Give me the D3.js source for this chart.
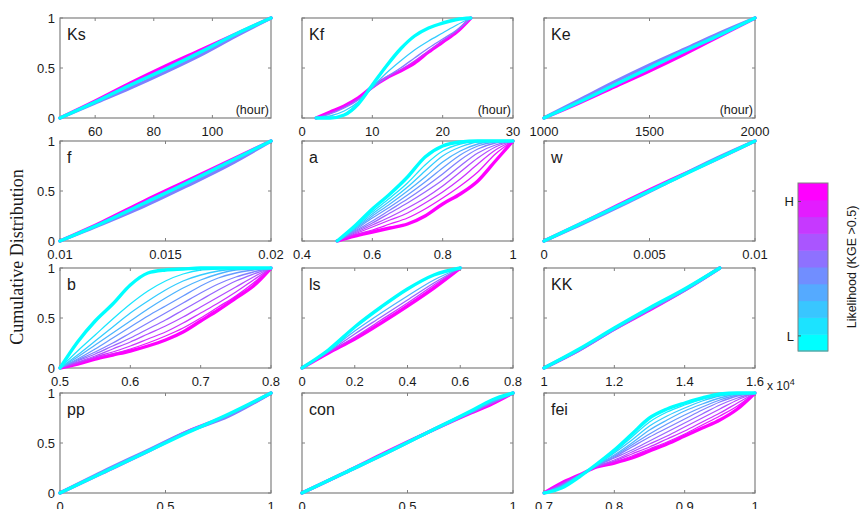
<!DOCTYPE html>
<html>
<head>
<meta charset="utf-8">
<script src="https://cdn.jsdelivr.net/npm/d3@7"></script>
<style>
body { margin: 0; background: #fff; }
text { font-family: 'Liberation Sans', Arial, sans-serif; fill: #1a1a1a; }
</style>
</head>
<body>
<svg id="chart" width="861" height="509"></svg>
<script>
// panel order: 4 rows x 3 columns
const panelNames = ['Ks', 'Kf', 'Ke', 'f', 'a', 'w', 'b', 'ls', 'KK', 'pp', 'con', 'fei']
const xDomains = [[48, 120], [0, 30], [1000, 2000], [0.01, 0.02], [0.4, 1], [0, 0.01],
                  [0.5, 0.8], [0, 0.8], [1, 1.6], [0, 1], [0, 1], [0.7, 1]]
const xTicks = [[60, 80, 100], [0, 10, 20, 30], [1000, 1500, 2000], [0.01, 0.015, 0.02],
                [0.4, 0.6, 0.8, 1], [0, 0.005, 0.01], [0.5, 0.6, 0.7, 0.8], [0, 0.2, 0.4, 0.6, 0.8],
                [1, 1.2, 1.4, 1.6], [0, 0.5, 1], [0, 0.5, 1], [0.7, 0.8, 0.9, 1]]
const unitLabels = ['(hour)', '(hour)', '(hour)', '', '', '', '', '', '', '', '', '']
const yTicks = [0, 0.5, 1]

// likelihood level of each curve: 10 = H (magenta), 0 = L (cyan)
const ksGrid = [48, 60, 72, 84, 96, 108, 120]
const ksLevels = [10, 5, 0]
const ksY = [
    [0, 0.17, 0.35, 0.52, 0.68, 0.84, 1],
    [0, 0.15, 0.30, 0.46, 0.63, 0.82, 1],
    [0, 0.16, 0.33, 0.49, 0.66, 0.84, 1]]

const kfGrid = [2, 4, 6, 8, 10, 12, 14, 16, 18, 20, 22, 24]
const kfLevels = [10, 8, 5, 2, 0]
const kfY = [
    [0, 0.06, 0.12, 0.20, 0.31, 0.40, 0.47, 0.55, 0.66, 0.76, 0.86, 1],
    [0, 0.05, 0.11, 0.19, 0.30, 0.40, 0.48, 0.57, 0.67, 0.77, 0.87, 1],
    [0, 0.04, 0.10, 0.18, 0.30, 0.41, 0.50, 0.60, 0.70, 0.79, 0.88, 1],
    [0, 0.02, 0.07, 0.16, 0.31, 0.45, 0.57, 0.68, 0.77, 0.85, 0.93, 1],
    [0, 0, 0.03, 0.14, 0.33, 0.52, 0.69, 0.82, 0.90, 0.95, 0.985, 1]]

const keGrid = [1000, 1167, 1333, 1500, 1667, 1833, 2000]
const keLevels = [10, 5, 0]
const keY = [
    [0, 0.15, 0.31, 0.47, 0.64, 0.82, 1],
    [0, 0.18, 0.36, 0.53, 0.69, 0.85, 1],
    [0, 0.16, 0.33, 0.50, 0.67, 0.83, 1]]

const fGrid = [0.01, 0.012, 0.014, 0.016, 0.018, 0.02]
const fLevels = [10, 5, 0]
const fY = [
    [0, 0.19, 0.40, 0.60, 0.80, 1],
    [0, 0.17, 0.35, 0.55, 0.76, 1],
    [0, 0.18, 0.38, 0.58, 0.79, 1]]

const aGrid = [0.5, 0.55, 0.6, 0.65, 0.7, 0.75, 0.8, 0.85, 0.9, 0.95, 1]
const aLevels = [10, 9, 8, 7, 6, 5, 4, 3, 2, 1, 0]
const aY = [
    [0, 0.05, 0.09, 0.13, 0.17, 0.25, 0.37, 0.47, 0.60, 0.80, 1],
    [0, 0.06, 0.11, 0.17, 0.23, 0.32, 0.43, 0.55, 0.69, 0.87, 1],
    [0, 0.07, 0.14, 0.21, 0.28, 0.38, 0.49, 0.62, 0.77, 0.91, 1],
    [0, 0.08, 0.16, 0.24, 0.33, 0.43, 0.55, 0.69, 0.83, 0.94, 1],
    [0, 0.09, 0.18, 0.28, 0.38, 0.49, 0.61, 0.75, 0.88, 0.96, 1],
    [0, 0.10, 0.20, 0.31, 0.42, 0.54, 0.67, 0.81, 0.92, 0.98, 1],
    [0, 0.11, 0.23, 0.34, 0.46, 0.59, 0.73, 0.86, 0.95, 0.99, 1],
    [0, 0.12, 0.25, 0.37, 0.50, 0.64, 0.79, 0.90, 0.97, 1, 1],
    [0, 0.13, 0.27, 0.40, 0.54, 0.70, 0.85, 0.94, 0.99, 1, 1],
    [0, 0.14, 0.29, 0.43, 0.58, 0.76, 0.90, 0.97, 1, 1, 1],
    [0, 0.15, 0.32, 0.47, 0.64, 0.84, 0.95, 0.99, 1, 1, 1]]

const wGrid = [0, 0.002, 0.004, 0.006, 0.008, 0.01]
const wLevels = [10, 5, 0]
const wY = [
    [0, 0.20, 0.41, 0.61, 0.80, 1],
    [0, 0.19, 0.39, 0.60, 0.81, 1],
    [0, 0.20, 0.40, 0.60, 0.80, 1]]

const bGrid = [0.5, 0.525, 0.55, 0.575, 0.6, 0.625, 0.65, 0.675, 0.7, 0.725, 0.75, 0.775, 0.8]
const bLevels = [10, 9, 8, 7, 6, 5, 4, 3, 2, 1, 0]
const bY = [
    [0, 0.04, 0.09, 0.13, 0.17, 0.22, 0.28, 0.36, 0.47, 0.58, 0.70, 0.82, 1],
    [0, 0.045, 0.10, 0.14, 0.19, 0.25, 0.32, 0.40, 0.50, 0.61, 0.72, 0.85, 1],
    [0, 0.05, 0.11, 0.16, 0.22, 0.29, 0.36, 0.45, 0.55, 0.65, 0.76, 0.88, 1],
    [0, 0.06, 0.12, 0.19, 0.26, 0.34, 0.42, 0.51, 0.61, 0.71, 0.81, 0.91, 1],
    [0, 0.07, 0.14, 0.22, 0.30, 0.39, 0.48, 0.58, 0.68, 0.78, 0.87, 0.94, 1],
    [0, 0.08, 0.16, 0.25, 0.35, 0.45, 0.55, 0.65, 0.75, 0.84, 0.91, 0.96, 1],
    [0, 0.09, 0.19, 0.30, 0.41, 0.52, 0.62, 0.72, 0.82, 0.90, 0.95, 0.98, 1],
    [0, 0.11, 0.23, 0.35, 0.47, 0.59, 0.70, 0.80, 0.88, 0.94, 0.98, 0.99, 1],
    [0, 0.13, 0.27, 0.41, 0.55, 0.67, 0.78, 0.87, 0.93, 0.97, 0.99, 1, 1],
    [0, 0.17, 0.33, 0.49, 0.64, 0.77, 0.87, 0.94, 0.98, 0.99, 1, 1, 1],
    [0, 0.26, 0.47, 0.64, 0.83, 0.95, 0.98, 0.99, 1, 1, 1, 1, 1]]

const lsGrid = [0, 0.1, 0.2, 0.3, 0.4, 0.5, 0.6]
const lsLevels = [10, 8, 6, 3, 0]
const lsY = [
    [0, 0.15, 0.29, 0.45, 0.62, 0.80, 1],
    [0, 0.155, 0.31, 0.48, 0.65, 0.83, 1],
    [0, 0.16, 0.34, 0.51, 0.68, 0.85, 1],
    [0, 0.17, 0.37, 0.55, 0.72, 0.88, 1],
    [0, 0.18, 0.41, 0.61, 0.79, 0.93, 1]]

const kkGrid = [1, 1.1, 1.2, 1.3, 1.4, 1.5]
const kkLevels = [10, 5, 0]
const kkY = [
    [0, 0.18, 0.39, 0.58, 0.78, 1],
    [0, 0.18, 0.39, 0.59, 0.78, 1],
    [0, 0.19, 0.40, 0.60, 0.79, 1]]

const ppGrid = [0, 0.2, 0.4, 0.6, 0.8, 1]
const ppLevels = [10, 5, 0]
const ppY = [
    [0, 0.20, 0.40, 0.61, 0.78, 1],
    [0, 0.21, 0.41, 0.61, 0.77, 1],
    [0, 0.20, 0.40, 0.60, 0.79, 1]]

const conGrid = [0, 0.2, 0.4, 0.6, 0.8, 0.9, 1]
const conLevels = [10, 5, 0]
const conY = [
    [0, 0.20, 0.41, 0.61, 0.80, 0.89, 1],
    [0, 0.20, 0.40, 0.61, 0.81, 0.91, 1],
    [0, 0.20, 0.40, 0.61, 0.82, 0.93, 1]]

const feiGrid = [0.7, 0.725, 0.75, 0.775, 0.8, 0.825, 0.85, 0.875, 0.9, 0.925, 0.95, 0.975, 1]
const feiLevels = [10, 9, 8, 7, 6, 5, 4, 3, 2, 1, 0]
const feiY = [
    [0, 0.10, 0.18, 0.26, 0.30, 0.35, 0.42, 0.49, 0.57, 0.65, 0.73, 0.84, 1],
    [0, 0.095, 0.18, 0.26, 0.31, 0.37, 0.44, 0.51, 0.59, 0.68, 0.77, 0.87, 1],
    [0, 0.09, 0.18, 0.26, 0.32, 0.39, 0.46, 0.54, 0.62, 0.71, 0.80, 0.90, 1],
    [0, 0.085, 0.178, 0.265, 0.33, 0.41, 0.49, 0.57, 0.66, 0.75, 0.84, 0.93, 1],
    [0, 0.08, 0.175, 0.27, 0.35, 0.43, 0.52, 0.61, 0.70, 0.79, 0.88, 0.95, 1],
    [0, 0.075, 0.175, 0.27, 0.36, 0.46, 0.56, 0.65, 0.74, 0.83, 0.91, 0.97, 1],
    [0, 0.07, 0.175, 0.275, 0.37, 0.48, 0.59, 0.69, 0.78, 0.86, 0.93, 0.98, 1],
    [0, 0.065, 0.17, 0.28, 0.38, 0.50, 0.63, 0.73, 0.82, 0.89, 0.95, 0.99, 1],
    [0, 0.06, 0.17, 0.28, 0.40, 0.53, 0.67, 0.77, 0.85, 0.92, 0.97, 0.99, 1],
    [0, 0.055, 0.165, 0.285, 0.41, 0.56, 0.71, 0.81, 0.88, 0.94, 0.98, 1, 1],
    [0, 0.05, 0.16, 0.29, 0.43, 0.59, 0.75, 0.84, 0.90, 0.95, 0.99, 1, 1]]

const grids = [ksGrid, kfGrid, keGrid, fGrid, aGrid, wGrid, bGrid, lsGrid, kkGrid, ppGrid, conGrid, feiGrid]
const levels = [ksLevels, kfLevels, keLevels, fLevels, aLevels, wLevels, bLevels, lsLevels, kkLevels, ppLevels, conLevels, feiLevels]
const curveYs = [ksY, kfY, keY, fY, aY, wY, bY, lsY, kkY, ppY, conY, feiY]

// colorbar
const colorbarLevels = [0, 1, 2, 3, 4, 5, 6, 7, 8, 9]
const colorbarTicks = [0.9, 8.9]
const colorbarTickLabels = ['L', 'H']

const svg = d3.select('#chart')

const colX = [60, 302, 544]
const rowY = [18, 141, 268, 393]
const pw = 211, ph = 100
const tickLen = 3

const color = d3.scaleLinear().domain([0, 10]).range(['#00ffff', '#ff00ff'])

panelNames.forEach((name, i) => {
    let col = i % 3, row = Math.floor(i / 3)
    let g = svg.append('g').attr('transform', `translate(${colX[col]},${rowY[row]})`)

    let x = d3.scaleLinear().domain(xDomains[i]).range([0, pw])
    let y = d3.scaleLinear().domain([0, 1]).range([ph, 0])

    // box
    g.append('rect')
        .attr('width', pw).attr('height', ph)
        .attr('fill', '#fff').attr('stroke', '#808080').attr('stroke-width', 1.2)

    // inner ticks on all four sides
    xTicks[i].forEach(t => {
        g.append('line').attr('x1', x(t)).attr('x2', x(t)).attr('y1', ph).attr('y2', ph - tickLen).attr('stroke', '#808080')
        g.append('line').attr('x1', x(t)).attr('x2', x(t)).attr('y1', 0).attr('y2', tickLen).attr('stroke', '#808080')
    })
    yTicks.forEach(t => {
        g.append('line').attr('x1', 0).attr('x2', tickLen).attr('y1', y(t)).attr('y2', y(t)).attr('stroke', '#808080')
        g.append('line').attr('x1', pw).attr('x2', pw - tickLen).attr('y1', y(t)).attr('y2', y(t)).attr('stroke', '#808080')
    })

    // curves, H first so L sits on top
    let line = d3.line()
        .x(d => x(d[0]))
        .y(d => y(d[1]))
        .curve(d3.curveMonotoneX)

    let many = levels[i].length > 3
    levels[i].forEach((lv, k) => {
        let pts = grids[i].map((xv, j) => [xv, curveYs[i][k][j]])
        let thick = !many || lv === 0 || lv === 10
        g.append('path')
            .attr('d', line(pts))
            .attr('fill', 'none')
            .attr('stroke', color(lv))
            .attr('stroke-width', thick ? 3.4 : 1.3)
            .attr('stroke-linejoin', 'round')
            .attr('stroke-linecap', 'round')
    })

    // x tick labels
    g.selectAll('text.xt')
        .data(xTicks[i])
        .join('text')
        .attr('class', 'xt')
        .attr('x', d => x(d))
        .attr('y', ph + 18)
        .attr('text-anchor', 'middle')
        .attr('font-size', 13)
        .text(d => String(d))

    // y tick labels on first column
    if (col === 0) {
        g.selectAll('text.yt')
            .data(yTicks)
            .join('text')
            .attr('class', 'yt')
            .attr('x', -5)
            .attr('y', d => y(d) + 5)
            .attr('text-anchor', 'end')
            .attr('font-size', 13)
            .text(d => String(d))
    }

    g.append('text')
        .attr('x', 7).attr('y', 22)
        .attr('font-size', 16)
        .text(name)

    if (unitLabels[i]) {
        g.append('text')
            .attr('x', pw - 2).attr('y', ph - 4)
            .attr('text-anchor', 'end')
            .attr('font-size', 12.5)
            .text(unitLabels[i])
    }

    if (name === 'KK') {
        let m = g.append('text').attr('x', pw + 12).attr('y', ph + 22).attr('font-size', 12)
        m.append('tspan').text('x 10')
        m.append('tspan').attr('dy', -5).attr('font-size', 9).text('4')
    }
})

// y axis title
svg.append('text')
    .attr('transform', 'translate(23,257) rotate(-90)')
    .attr('text-anchor', 'middle')
    .attr('font-size', 18)
    .style('font-family', "'Liberation Serif', 'Times New Roman', serif")
    .text('Cumulative Distribution')

// colorbar
let cbX = 798, cbW = 30, cbTop = 183, cbBottom = 351
let cy = d3.scaleLinear().domain([0, 10]).range([cbBottom, cbTop])
let cb = svg.append('g')
cb.selectAll('rect.band')
    .data(colorbarLevels)
    .join('rect')
    .attr('class', 'band')
    .attr('x', cbX)
    .attr('y', d => cy(d + 1))
    .attr('width', cbW)
    .attr('height', d => cy(d) - cy(d + 1) + 0.5)
    .attr('fill', d => color(d * 10 / 9))
cb.append('rect')
    .attr('x', cbX).attr('y', cbTop).attr('width', cbW).attr('height', cbBottom - cbTop)
    .attr('fill', 'none').attr('stroke', '#808080')
colorbarTicks.forEach((t, k) => {
    cb.append('line').attr('x1', cbX).attr('x2', cbX + 3).attr('y1', cy(t)).attr('y2', cy(t)).attr('stroke', '#555')
    cb.append('text')
        .attr('x', cbX - 4).attr('y', cy(t) + 5)
        .attr('text-anchor', 'end')
        .attr('font-size', 13)
        .text(colorbarTickLabels[k])
})
svg.append('text')
    .attr('transform', 'translate(856,267) rotate(-90)')
    .attr('text-anchor', 'middle')
    .attr('font-size', 12.5)
    .text('Likelihood (KGE >0.5)')
</script>
</body>
</html>
